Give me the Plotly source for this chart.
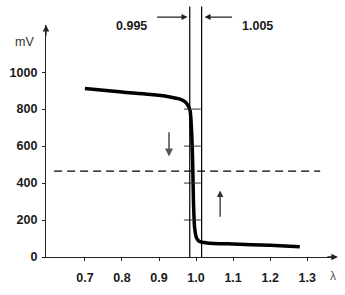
import plotly.graph_objects as go

# Lambda-sensor voltage curve
lam = [0.70, 0.80, 0.90, 0.93, 0.955, 0.97, 0.978, 0.984, 0.988, 0.991, 0.993, 0.996, 1.001, 1.008, 1.03, 1.10, 1.20, 1.28]
mv = [912, 893, 875, 866, 855, 840, 820, 790, 680, 500, 300, 160, 105, 85, 76, 70, 63, 55]

x_ticks = [0.7, 0.8, 0.9, 1.0, 1.1, 1.2, 1.3]
x_tick_labels = ["0.7", "0.8", "0.9", "1.0", "1.1", "1.2", "1.3"]
y_ticks = [0, 200, 400, 600, 800, 1000]

window_pos = [0.983, 1.015]          # drawn positions of the lambda window lines
window_labels = ["0.995", "1.005"]
switch_level = 465                    # dashed reference voltage
cross_marks = [200, 400, 600, 800]

FONT = "Liberation Sans, Arial, sans-serif"
TXT = "#1a1a1a"
BOLD = dict(size=12.5, color=TXT, family=FONT, weight="bold")

fig = go.Figure()

fig.add_trace(go.Scatter(x=lam, y=mv, mode="lines",
                         line=dict(color="black", width=3.5, shape="spline", smoothing=0.6),
                         hoverinfo="skip"))

fig.add_trace(go.Scatter(x=[0.99] * len(cross_marks), y=cross_marks, mode="markers",
                         marker=dict(symbol="line-ew", size=12, line=dict(color="#333", width=1)),
                         hoverinfo="skip"))

# dashed level
fig.add_shape(type="line", x0=0.617, x1=1.335, y0=switch_level, y1=switch_level,
              line=dict(color="black", width=1.3, dash="8px,5px"))

# window lines
for xp in window_pos:
    fig.add_shape(type="line", xref="x", yref="paper", x0=xp, x1=xp, y0=0, y1=1.08,
                  line=dict(color="black", width=1.2))

ann = []
# top labels with arrows
ann.append(dict(x=0.826, y=1.034, xref="x", yref="paper", text=window_labels[0], showarrow=False,
                font=BOLD))
ann.append(dict(x=1.165, y=1.034, xref="x", yref="paper", text=window_labels[1], showarrow=False,
                font=BOLD))
ann.append(dict(x=window_pos[0] - 0.006, y=1.034, xref="x", yref="paper", text="", showarrow=True,
                ax=-32, ay=0, arrowhead=2, arrowsize=1, arrowwidth=1.2, arrowcolor="#222"))
ann.append(dict(x=window_pos[1] + 0.008, y=1.034, xref="x", yref="paper", text="", showarrow=True,
                ax=29, ay=0, arrowhead=2, arrowsize=1, arrowwidth=1.2, arrowcolor="#222"))

# gray direction arrows
ann.append(dict(x=0.927, y=543, xref="x", yref="y", ax=0.927, ay=683, axref="x", ayref="y",
                text="", showarrow=True, arrowhead=2, arrowsize=1, arrowwidth=1.6, arrowcolor="#555"))
ann.append(dict(x=1.065, y=360, xref="x", yref="y", ax=1.065, ay=210, axref="x", ayref="y",
                text="", showarrow=True, arrowhead=2, arrowsize=1, arrowwidth=1.3, arrowcolor="#333"))

# axis arrowheads
ann.append(dict(x=1.01, y=0, xref="paper", yref="paper", text="", showarrow=True,
                ax=-12, ay=0, arrowhead=2, arrowsize=1, arrowwidth=1.3, arrowcolor="#222"))
ann.append(dict(x=0, y=1.0, xref="paper", yref="paper", text="", showarrow=True,
                ax=0, ay=12, arrowhead=2, arrowsize=1, arrowwidth=1.3, arrowcolor="#222"))

# axis titles
ann.append(dict(x=-0.073, y=0.925, xref="paper", yref="paper", xanchor="center", yanchor="middle",
                text="mV", showarrow=False, font=dict(size=12.5, color="#333", family=FONT)))
ann.append(dict(x=1.37, y=0, xref="x", yref="paper", yshift=-19, xanchor="center", yanchor="middle",
                text="λ", showarrow=False, font=dict(size=12, color="#555", family=FONT)))

fig.update_layout(
    width=345, height=295,
    margin=dict(l=45, r=10, t=25, b=36),
    paper_bgcolor="white", plot_bgcolor="white",
    showlegend=False,
    annotations=ann,
    font=dict(family=FONT, size=13, color=TXT),
    xaxis=dict(range=[0.595, 1.375], tickvals=x_ticks, ticktext=x_tick_labels,
               showgrid=False, zeroline=False, showline=True, linecolor="#222", linewidth=1.3,
               ticks="outside", ticklen=3, tickcolor="#222", tickfont=BOLD,
               ticklabelstandoff=6),
    yaxis=dict(range=[0, 1255], tickvals=y_ticks,
               showgrid=False, zeroline=False, showline=True, linecolor="#222", linewidth=1.3,
               ticks="outside", ticklen=3, tickcolor="#222", tickfont=BOLD,
               ticklabelstandoff=2),
)

fig.write_html("out.html")
